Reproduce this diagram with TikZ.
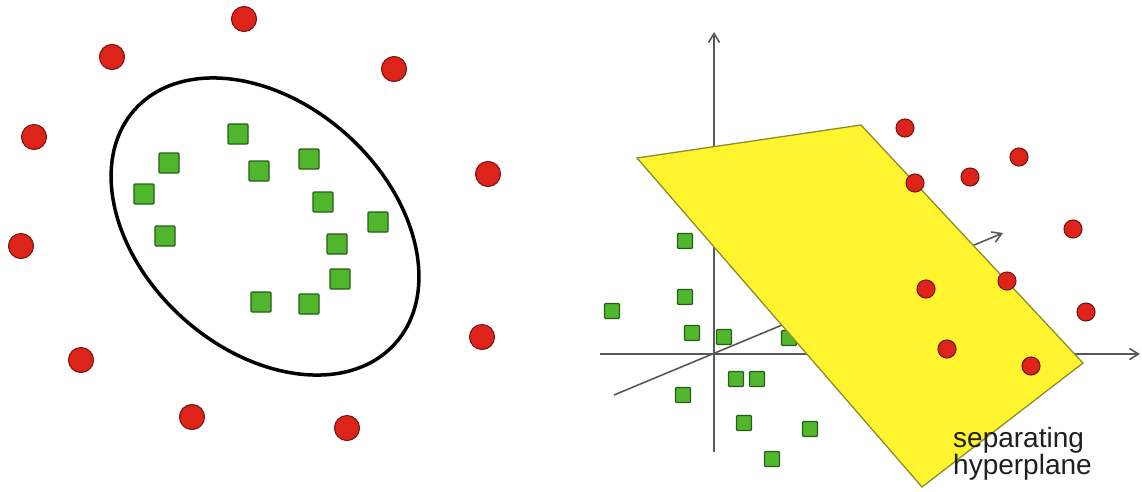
\documentclass[tikz,border=0pt]{standalone}
\usepackage{fontspec}
\newfontfamily\labelfont{Liberation Sans}
\usetikzlibrary{arrows.meta}
\definecolor{ptred}{RGB}{222,36,26}
\definecolor{ptredd}{RGB}{120,22,16}
\definecolor{ptgrn}{RGB}{80,182,44}
\definecolor{ptgrnd}{RGB}{38,92,24}
\definecolor{planec}{RGB}{255,244,46}
\definecolor{planed}{RGB}{140,140,40}
\definecolor{axisc}{RGB}{88,88,88}
\tikzset{
  redpt/.style={fill=ptred,draw=ptredd,line width=1.1pt},
  grnsq/.style={rectangle,fill=ptgrn,draw=ptgrnd,line width=1.1pt,rounded corners=1pt,minimum size=#1,inner sep=0pt},
  axisln/.style={axisc,line width=1.6pt},
}

\begin{document}
\begin{tikzpicture}[x=1pt,y=-1pt,>={Straight Barb[length=9pt,width=11pt]}]
\useasboundingbox (0,0) rectangle (1142,491);
% left panel: ellipse around the squares, circles outside
\draw[line width=3.5pt,rotate around={-42:(265,226.5)}] (265,226.5) ellipse [x radius=175pt,y radius=123pt];
\foreach \x/\y in {244/19,112/57,394/69,34/137,488/174,21/246,482/337,81/360,192/417,347/428}
  \filldraw[redpt] (\x,\y) circle (12.5pt);
\foreach \x/\y in {238/134,169/163,259/171,309/159,144/194,323/202,378/222,165/236,337/244,340/279,261/302,309/304}
  \node[grnsq=20pt] at (\x,\y) {};
% right panel: three axes, squares, then the plane on top
\draw[axisln,->] (714,452) -- (714,32);
\draw[axisln,->] (600,354) -- (1140,354);
\draw[axisln,->] (614,395) -- (1003,233);
\foreach \x/\y in {685/241,685/297,612/311,692/333,724/337,789/338,736/379,757/379,683/395,744/423,810/429,772/459}
  \node[grnsq=15pt] at (\x,\y) {};
\filldraw[fill=planec,draw=planed,line width=1.3pt] (637,158) -- (861,125) -- (1083,363) -- (922,487) -- cycle;
\foreach \x/\y in {905/128,915/183,970/177,1019/157,1073/229,926/289,1007/281,1086/312,947/349,1031/366}
  \filldraw[redpt] (\x,\y) circle (9pt);
\node[anchor=base west,align=left,inner sep=0pt,text=black!88,font={\labelfont\fontsize{28}{27}\selectfont}] (seplabel) at (953,474) {separating\\hyperplane};
\end{tikzpicture}
\end{document}
